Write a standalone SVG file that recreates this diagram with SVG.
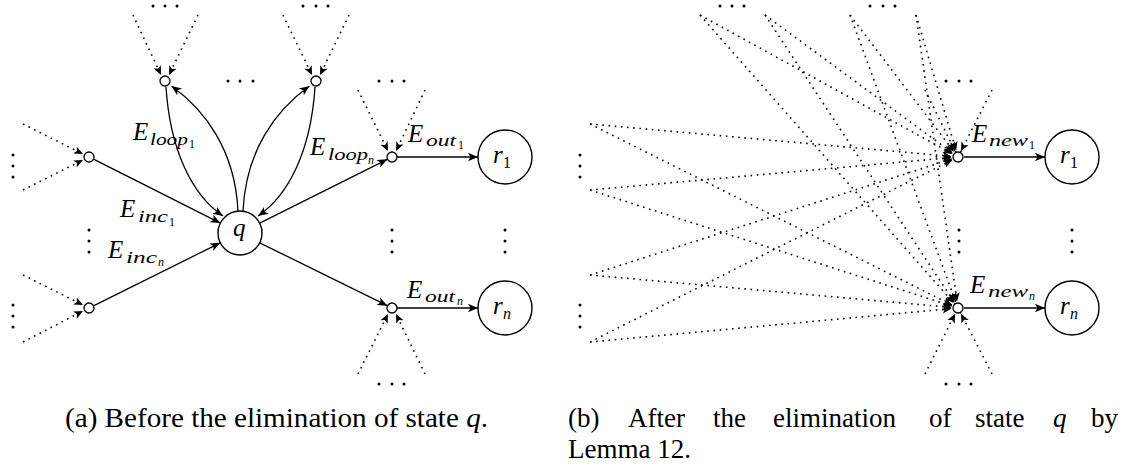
<svg xmlns="http://www.w3.org/2000/svg" width="1125" height="468" viewBox="0 0 1125 468">
<style>
.e{fill:none;stroke:#000;stroke-width:1.3}
.d{fill:none;stroke:#000;stroke-width:1.6;stroke-dasharray:1.6 4.6}
.sn{fill:#fff;stroke:#000;stroke-width:1.3}
.bn{fill:#fff;stroke:#000;stroke-width:1.4}
.t{font-family:'Liberation Serif','Times New Roman','DejaVu Serif',serif;fill:#000}
.i{font-style:italic}
.L{font-size:25px}
.S{font-size:16px}
.SS{font-size:12px}
.cap{font-family:'Liberation Serif','Times New Roman','DejaVu Serif',serif;font-size:27px;fill:#000}
.dt{fill:#000}
</style>
<defs>
<marker id="a" markerUnits="userSpaceOnUse" orient="auto" refX="0" refY="0" markerWidth="12" markerHeight="10" overflow="visible"><path d="M0,0 L-10,-4.2 L-7.5,0 L-10,4.2 Z" fill="#000" stroke="none"/></marker>
<marker id="as" markerUnits="userSpaceOnUse" orient="auto" refX="0" refY="0" markerWidth="10" markerHeight="8" overflow="visible"><path d="M0,0 L-9,-4 L-6.8,0 L-9,4 Z" fill="#000" stroke="none"/></marker>
<marker id="ac" markerUnits="userSpaceOnUse" orient="auto" refX="0" refY="0" markerWidth="16" markerHeight="8" overflow="visible"><path d="M-6.5,0 L-15.5,-4 L-13.3,0 L-15.5,4 Z" fill="#000" stroke="none"/></marker>
</defs>

<g id="connectors">
  <path class="d" d="M133,15 L161,75" marker-end="url(#as)"/>
  <path class="d" d="M198,15 L169,75" marker-end="url(#as)"/>
  <path class="d" d="M283,15 L312,75" marker-end="url(#as)"/>
  <path class="d" d="M349,15 L320,75" marker-end="url(#as)"/>
  <path class="d" d="M358,90 L388,151" marker-end="url(#as)"/>
  <path class="d" d="M425,90 L396,151" marker-end="url(#as)"/>
  <path class="d" d="M358,374 L388,314" marker-end="url(#as)"/>
  <path class="d" d="M425,374 L396,314" marker-end="url(#as)"/>
  <path class="d" d="M23,124 L83,154" marker-end="url(#as)"/>
  <path class="d" d="M23,190 L83,160" marker-end="url(#as)"/>
  <path class="d" d="M23,275 L83,305" marker-end="url(#as)"/>
  <path class="d" d="M23,342 L83,311" marker-end="url(#as)"/>
  <path class="e" d="M93.5,159.2 L220.4,223.1" marker-end="url(#a)"/>
  <path class="e" d="M93.5,305.8 L220.3,242.8" marker-end="url(#a)"/>
  <path class="e" d="M166,87 C170,150 192,195 223,216" marker-end="url(#a)"/>
  <path class="e" d="M238,211 C235,150 205,110 171.5,86" marker-end="url(#a)"/>
  <path class="e" d="M243,211 C246,150 276,110 309.5,86" marker-end="url(#a)"/>
  <path class="e" d="M315,87 C311,150 289,195 258,216" marker-end="url(#a)"/>
  <path class="e" d="M259.7,223.2 L387.3,159.3" marker-end="url(#a)"/>
  <path class="e" d="M259.7,242.8 L387.3,305.7" marker-end="url(#a)"/>
  <path class="e" d="M397,157 L478,157" marker-end="url(#a)"/>
  <path class="e" d="M397,308 L478,308" marker-end="url(#a)"/>
  <path class="d" d="M590,124 L958,157" marker-end="url(#ac)"/>
  <path class="d" d="M590,124 L958,308" marker-end="url(#ac)"/>
  <path class="d" d="M590,190 L958,157" marker-end="url(#ac)"/>
  <path class="d" d="M590,190 L958,308" marker-end="url(#ac)"/>
  <path class="d" d="M590,275 L958,157" marker-end="url(#ac)"/>
  <path class="d" d="M590,275 L958,308" marker-end="url(#ac)"/>
  <path class="d" d="M590,342 L958,157" marker-end="url(#ac)"/>
  <path class="d" d="M590,342 L958,308" marker-end="url(#ac)"/>
  <path class="d" d="M700,15 L958,157" marker-end="url(#ac)"/>
  <path class="d" d="M700,15 L958,308" marker-end="url(#ac)"/>
  <path class="d" d="M765,15 L958,157" marker-end="url(#ac)"/>
  <path class="d" d="M765,15 L958,308" marker-end="url(#ac)"/>
  <path class="d" d="M850,15 L958,157" marker-end="url(#ac)"/>
  <path class="d" d="M850,15 L958,308" marker-end="url(#ac)"/>
  <path class="d" d="M916,15 L958,157" marker-end="url(#ac)"/>
  <path class="d" d="M916,15 L958,308" marker-end="url(#ac)"/>
  <path class="d" d="M925,90 L958,157" marker-end="url(#ac)"/>
  <path class="d" d="M992,90 L958,157" marker-end="url(#ac)"/>
  <path class="d" d="M925,374 L958,308" marker-end="url(#ac)"/>
  <path class="d" d="M992,374 L958,308" marker-end="url(#ac)"/>
  <path class="e" d="M964,157 L1045,157" marker-end="url(#a)"/>
  <path class="e" d="M964,308 L1045,308" marker-end="url(#a)"/>
</g>

<g id="q"><circle class="bn" cx="240" cy="233" r="22"/><text class="t i L" x="233" y="236">q</text></g>
<g id="r1a"><circle class="bn" cx="505" cy="157" r="27"/><text class="t i L" x="493" y="163">r</text><text class="t S" x="503" y="168">1</text></g>
<g id="rna"><circle class="bn" cx="505" cy="308" r="27"/><text class="t i L" x="493" y="314">r</text><text class="t i S" x="503" y="319">n</text></g>
<g id="loop1"><circle class="sn" cx="165" cy="81" r="5"/></g>
<g id="loopn"><circle class="sn" cx="316" cy="81" r="5"/></g>
<g id="inc1"><circle class="sn" cx="89" cy="157" r="5"/></g>
<g id="incn"><circle class="sn" cx="89" cy="308" r="5"/></g>
<g id="out1"><circle class="sn" cx="392" cy="157" r="5"/></g>
<g id="outn"><circle class="sn" cx="392" cy="308" r="5"/></g>

<g id="new1"><circle class="sn" cx="958" cy="157" r="5"/></g>
<g id="newn"><circle class="sn" cx="958" cy="308" r="5"/></g>
<g id="r1b"><circle class="bn" cx="1072" cy="157" r="27"/><text class="t i L" x="1060" y="163">r</text><text class="t S" x="1070" y="168">1</text></g>
<g id="rnb"><circle class="bn" cx="1072" cy="308" r="27"/><text class="t i L" x="1060" y="314">r</text><text class="t i S" x="1070" y="319">n</text></g>

<g id="labels">
  <text class="t i L" x="133" y="140">E</text><text class="t i S" x="150" y="145" textLength="38" lengthAdjust="spacingAndGlyphs">loop</text><text class="t SS" x="189" y="148">1</text>
  <text class="t i L" x="120" y="217">E</text><text class="t i S" x="138" y="222" textLength="30" lengthAdjust="spacingAndGlyphs">inc</text><text class="t SS" x="169" y="226">1</text>
  <text class="t i L" x="108" y="258">E</text><text class="t i S" x="126" y="263" textLength="31" lengthAdjust="spacingAndGlyphs">inc</text><text class="t i SS" x="158" y="266">n</text>
  <text class="t i L" x="310" y="155">E</text><text class="t i S" x="328" y="160" textLength="40" lengthAdjust="spacingAndGlyphs">loop</text><text class="t i SS" x="368" y="164">n</text>
  <text class="t i L" x="408" y="142">E</text><text class="t i S" x="426" y="146" textLength="30" lengthAdjust="spacingAndGlyphs">out</text><text class="t SS" x="458" y="149">1</text>
  <text class="t i L" x="407" y="298">E</text><text class="t i S" x="425" y="302" textLength="30" lengthAdjust="spacingAndGlyphs">out</text><text class="t i SS" x="457" y="305">n</text>
  <text class="t i L" x="972" y="142">E</text><text class="t i S" x="989" y="146" textLength="39" lengthAdjust="spacingAndGlyphs">new</text><text class="t SS" x="1029" y="149">1</text>
  <text class="t i L" x="970" y="293">E</text><text class="t i S" x="988" y="297" textLength="40" lengthAdjust="spacingAndGlyphs">new</text><text class="t i SS" x="1029" y="300">n</text>
</g>

<g id="dots" class="dt">
  <circle cx="153" cy="6" r="1.5"/><circle cx="165" cy="6" r="1.5"/><circle cx="177" cy="6" r="1.5"/>
  <circle cx="303" cy="6" r="1.5"/><circle cx="316" cy="6" r="1.5"/><circle cx="328" cy="6" r="1.5"/>
  <circle cx="228" cy="81" r="1.5"/><circle cx="240" cy="81" r="1.5"/><circle cx="253" cy="81" r="1.5"/>
  <circle cx="379" cy="81" r="1.5"/><circle cx="392" cy="81" r="1.5"/><circle cx="404" cy="81" r="1.5"/>
  <circle cx="379" cy="384" r="1.5"/><circle cx="392" cy="384" r="1.5"/><circle cx="404" cy="384" r="1.5"/>
  <circle cx="13" cy="155" r="1.5"/><circle cx="13" cy="166" r="1.5"/><circle cx="13" cy="177" r="1.5"/>
  <circle cx="13" cy="305" r="1.5"/><circle cx="13" cy="316" r="1.5"/><circle cx="13" cy="327" r="1.5"/>
  <circle cx="89" cy="230" r="1.5"/><circle cx="89" cy="241" r="1.5"/><circle cx="89" cy="252" r="1.5"/>
  <circle cx="392" cy="230" r="1.5"/><circle cx="392" cy="241" r="1.5"/><circle cx="392" cy="252" r="1.5"/>
  <circle cx="505" cy="230" r="1.5"/><circle cx="505" cy="241" r="1.5"/><circle cx="505" cy="252" r="1.5"/>
  <circle cx="720" cy="6" r="1.5"/><circle cx="732" cy="6" r="1.5"/><circle cx="744" cy="6" r="1.5"/>
  <circle cx="870" cy="6" r="1.5"/><circle cx="883" cy="6" r="1.5"/><circle cx="895" cy="6" r="1.5"/>
  <circle cx="946" cy="81" r="1.5"/><circle cx="959" cy="81" r="1.5"/><circle cx="971" cy="81" r="1.5"/>
  <circle cx="946" cy="384" r="1.5"/><circle cx="959" cy="384" r="1.5"/><circle cx="971" cy="384" r="1.5"/>
  <circle cx="580" cy="155" r="1.5"/><circle cx="580" cy="166" r="1.5"/><circle cx="580" cy="177" r="1.5"/>
  <circle cx="580" cy="305" r="1.5"/><circle cx="580" cy="316" r="1.5"/><circle cx="580" cy="327" r="1.5"/>
  <circle cx="959" cy="230" r="1.5"/><circle cx="959" cy="241" r="1.5"/><circle cx="959" cy="252" r="1.5"/>
  <circle cx="1072" cy="230" r="1.5"/><circle cx="1072" cy="241" r="1.5"/><circle cx="1072" cy="252" r="1.5"/>
</g>

<g id="captions">
  <text class="cap" x="65" y="427" textLength="423" lengthAdjust="spacingAndGlyphs">(a) Before the elimination of state <tspan class="i">q</tspan>.</text>
  <text class="cap" y="427"><tspan x="568">(b)</tspan><tspan x="628">After</tspan><tspan x="713">the</tspan><tspan x="773">elimination</tspan><tspan x="929">of</tspan><tspan x="975">state</tspan><tspan x="1053" class="i">q</tspan><tspan x="1091">by</tspan></text>
  <text class="cap" x="568" y="458">Lemma 12.</text>
</g>
</svg>
